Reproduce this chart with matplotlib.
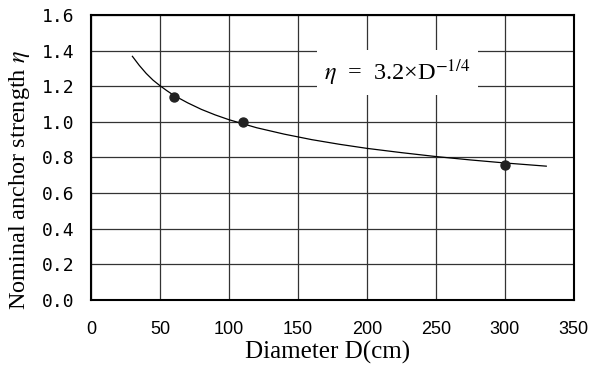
import matplotlib
matplotlib.use("Agg")
import matplotlib.pyplot as plt

# Measured data points
diam_pts = [60, 110, 300]
eta_pts = [1.14, 1.00, 0.76]

# Fitted curve
curve_d = [30, 35, 40, 45, 50, 55, 60, 70, 80, 90, 100, 120, 140, 160, 180, 200, 225, 250, 275, 300, 330]
curve_eta = [1.368, 1.317, 1.272, 1.234, 1.203, 1.175, 1.149, 1.107, 1.070, 1.039, 1.012, 0.967,
             0.931, 0.900, 0.874, 0.851, 0.827, 0.805, 0.786, 0.769, 0.751]

x_ticks = [0, 50, 100, 150, 200, 250, 300, 350]
y_ticks = [0.0, 0.2, 0.4, 0.6, 0.8, 1.0, 1.2, 1.4, 1.6]

plt.rcParams['mathtext.fontset'] = 'stix'

fig = plt.figure(figsize=(5.91, 3.67), dpi=100)
ax = fig.add_axes([0.154, 0.183, 0.817, 0.776])

ax.plot(curve_d, curve_eta, color='black', lw=0.9, zorder=3)
ax.scatter(diam_pts, eta_pts, s=42, color='#222222', zorder=4)

ax.set_xlim(0, 350)
ax.set_ylim(0, 1.6)
ax.set_xticks(x_ticks)
ax.set_yticks(y_ticks)
ax.set_xticklabels([str(v) for v in x_ticks], family='Liberation Sans', fontsize=13)
ax.set_yticklabels([f"{v:.1f}" for v in y_ticks], family='DejaVu Sans Mono', fontsize=13)
ax.tick_params(axis='both', length=0)
ax.tick_params(axis='y', pad=12)
ax.tick_params(axis='x', pad=15)

ax.grid(True, color='#333333', lw=0.9)
ax.set_axisbelow(True)
for s in ax.spines.values():
    s.set_linewidth(1.5)
    s.set_color('black')

ax.set_xlabel('Diameter D(cm)', family='Liberation Serif', fontsize=18)
ax.set_ylabel(r'Nominal anchor strength $\eta$', family='Liberation Serif', fontsize=17.5)
ax.xaxis.set_label_coords(0.49, -0.145)
ax.yaxis.set_label_coords(-0.122, 0.42)

ax.text(222, 1.275, r'$\eta$  =  3.2×D$^{-1/4}$', family='Liberation Serif', fontsize=17.5,
        ha='center', va='center', zorder=5,
        bbox=dict(boxstyle='square,pad=0.3', facecolor='white', edgecolor='none'))

fig.savefig('out.png', dpi=100)
